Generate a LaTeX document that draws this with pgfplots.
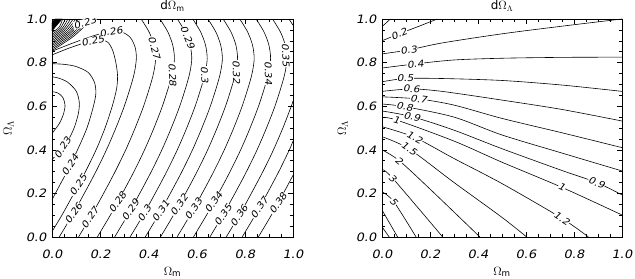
\documentclass[border=0pt]{standalone}
\usepackage{pgfplots}
\pgfplotsset{compat=1.18}
\usepackage{fontspec}
\setmainfont{DejaVu Sans}
\newfontfamily\tickfont[FakeStretch=1.12, FakeSlant=0.2]{DejaVu Sans}
\tikzset{lab/.style={font=\tickfont\fontsize{9.4}{10}\selectfont, fill=white, inner sep=0.4pt}}
\pgfplotsset{
  myax/.style={
    scale only axis, height=218bp,
    xmin=0,xmax=1,ymin=0,ymax=1,
    xtick={0,0.2,0.4,0.6,0.8,1}, ytick={0,0.2,0.4,0.6,0.8,1},
    xticklabels={0.0,0.2,0.4,0.6,0.8,1.0},
    yticklabels={0.0,0.2,0.4,0.6,0.8,1.0},
    minor tick num=3,
    tick align=inside,
    major tick length=5bp, minor tick length=3bp,
    every tick/.style={black, line width=0.5pt},
    axis line style={line width=0.6pt},
    xticklabel style={font=\tickfont\fontsize{11.6}{12}\selectfont, yshift=-9bp},
    yticklabel style={font=\tickfont\fontsize{11.6}{12}\selectfont, xshift=-2bp},
    title style={at={(axis description cs:0.5,1.033)}, anchor=center, inner sep=0pt, font=\fontsize{12}{13}\selectfont},
    xlabel style={at={(axis description cs:0.5,-0.16)}, anchor=center, font=\fontsize{12.5}{13}\selectfont},
    label style={font=\fontsize{12.5}{13}\selectfont},
  },
  cl/.style={black, line width=0.6pt, smooth, tension=0.5, no marks},
}
\begin{document}
\begin{tikzpicture}
\useasboundingbox (-52bp,-42bp) rectangle (583bp,237bp);
% ---------------- left: dOmega_m ----------------
\begin{axis}[myax, at={(0,0)}, anchor=south west, width=241bp,
  title={d$\Omega_{\mathrm m}$}, xlabel={$\Omega_{\mathrm m}$}, ylabel={$\Omega_\Lambda$},
  ylabel style={at={(axis description cs:-0.18,0.5)}, anchor=center}]
% corner blob
\addplot[fill=black, draw=black, line width=0.4pt] coordinates {(0,0.945) (0.042,1) (0.012,1) (0,0.982) (0,0.945)};
% dense cluster
\addplot[cl] coordinates {(0,0.855) (0.0905,0.9215) (0.165,1)};
\addplot[cl] coordinates {(0,0.8625) (0.085,0.925) (0.154,1)};
\addplot[cl] coordinates {(0,0.870) (0.0795,0.929) (0.143,1)};
\addplot[cl] coordinates {(0,0.8775) (0.074,0.933) (0.132,1)};
\addplot[cl] coordinates {(0,0.885) (0.0685,0.9365) (0.121,1)};
\addplot[cl] coordinates {(0,0.8925) (0.063,0.940) (0.110,1)};
\addplot[cl] coordinates {(0,0.900) (0.0575,0.944) (0.099,1)};
\addplot[cl] coordinates {(0,0.9075) (0.052,0.948) (0.088,1)};
\addplot[cl] coordinates {(0,0.915) (0.0465,0.9515) (0.077,1)};
\addplot[cl] coordinates {(0,0.9225) (0.041,0.955) (0.066,1)};
\addplot[cl] coordinates {(0,0.930) (0.0355,0.959) (0.055,1)};
\addplot[cl] coordinates {(0,0.9375) (0.030,0.963) (0.044,1)};
% inner loops
\addplot[cl] coordinates {(0,0.475) (0.03,0.52) (0.048,0.565) (0.054,0.605) (0.045,0.64) (0.025,0.66) (0,0.667)};
\addplot[cl] coordinates {(0,0.355) (0.044,0.41) (0.075,0.46) (0.095,0.51) (0.11,0.57) (0.113,0.62) (0.1,0.67) (0.065,0.71) (0.03,0.728) (0,0.735)};
\addplot[cl] coordinates {(0,0.17) (0.014,0.2) (0.062,0.3) (0.106,0.4) (0.145,0.5) (0.172,0.6) (0.182,0.66) (0.176,0.71) (0.15,0.755) (0.1,0.782) (0.05,0.792) (0,0.795)};
\addplot[cl] coordinates {(0,0.025) (0.041,0.1) (0.091,0.2) (0.139,0.3) (0.183,0.4) (0.22,0.5) (0.25,0.6) (0.268,0.68) (0.272,0.74) (0.265,0.8) (0.252,0.855) (0.232,0.893) (0.2,0.905) (0.169,0.9) (0.12,0.885) (0.06,0.862) (0,0.835)};
\addplot[cl] coordinates {(0.03,0) (0.084,0.1) (0.134,0.2) (0.182,0.3) (0.226,0.4) (0.265,0.5) (0.3,0.6) (0.329,0.7) (0.343,0.76) (0.35,0.82) (0.345,0.87) (0.325,0.915) (0.29,0.94) (0.245,0.942) (0.2,0.932) (0.15,0.915) (0.08,0.887) (0,0.852)};
% outer contours
\addplot[cl] coordinates {(0.110,0) (0.164,0.1) (0.214,0.2) (0.262,0.3) (0.306,0.4) (0.345,0.5) (0.380,0.6) (0.409,0.7) (0.423,0.76) (0.430,0.82) (0.423,0.88) (0.403,0.94) (0.370,1)};
\addplot[cl] coordinates {(0.188,0) (0.242,0.1) (0.292,0.2) (0.340,0.3) (0.384,0.4) (0.423,0.5) (0.458,0.6) (0.487,0.7) (0.501,0.76) (0.508,0.82) (0.501,0.88) (0.481,0.94) (0.448,1)};
\addplot[cl] coordinates {(0.260,0) (0.314,0.1) (0.364,0.2) (0.412,0.3) (0.456,0.4) (0.495,0.5) (0.530,0.6) (0.559,0.7) (0.573,0.76) (0.580,0.82) (0.573,0.88) (0.553,0.94) (0.520,1)};
\addplot[cl] coordinates {(0.324,0) (0.378,0.1) (0.428,0.2) (0.476,0.3) (0.520,0.4) (0.559,0.5) (0.594,0.6) (0.623,0.7) (0.637,0.76) (0.644,0.82) (0.637,0.88) (0.617,0.94) (0.584,1)};
\addplot[cl] coordinates {(0.387,0) (0.441,0.1) (0.491,0.2) (0.539,0.3) (0.583,0.4) (0.622,0.5) (0.657,0.6) (0.686,0.7) (0.700,0.76) (0.707,0.82) (0.700,0.88) (0.680,0.94) (0.647,1)};
\addplot[cl] coordinates {(0.450,0) (0.504,0.1) (0.554,0.2) (0.602,0.3) (0.646,0.4) (0.685,0.5) (0.720,0.6) (0.749,0.7) (0.763,0.76) (0.770,0.82) (0.763,0.88) (0.743,0.94) (0.710,1)};
\addplot[cl] coordinates {(0.519,0) (0.573,0.1) (0.623,0.2) (0.671,0.3) (0.715,0.4) (0.754,0.5) (0.789,0.6) (0.818,0.7) (0.832,0.76) (0.839,0.82) (0.832,0.88) (0.812,0.94) (0.779,1)};
\addplot[cl] coordinates {(0.587,0) (0.641,0.1) (0.691,0.2) (0.739,0.3) (0.783,0.4) (0.822,0.5) (0.857,0.6) (0.886,0.7) (0.900,0.76) (0.907,0.82) (0.900,0.88) (0.880,0.94) (0.847,1)};
\addplot[cl] coordinates {(0.655,0) (0.709,0.1) (0.759,0.2) (0.807,0.3) (0.851,0.4) (0.890,0.5) (0.925,0.6) (0.954,0.7) (0.968,0.76) (0.975,0.82) (0.968,0.88) (0.948,0.94) (0.915,1)};
\addplot[cl] coordinates {(0.723,0) (0.777,0.1) (0.827,0.2) (0.875,0.3) (0.919,0.4) (0.958,0.5) (0.993,0.6) (1.0,0.624)};
\addplot[cl] coordinates {(1.0,0.972) (0.983,1.0)};
\addplot[cl] coordinates {(0.789,0) (0.843,0.1) (0.893,0.2) (0.941,0.3) (0.985,0.4) (1.0,0.44)};
\addplot[cl] coordinates {(0.856,0) (0.910,0.1) (0.960,0.2) (1.0,0.283)};
% labels
\node[lab, rotate=58] at (axis cs:0.044,0.41) {0.23};
\node[lab, rotate=57] at (axis cs:0.075,0.33) {0.24};
\node[lab, rotate=55] at (axis cs:0.109,0.238) {0.25};
\node[lab, rotate=55] at (axis cs:0.089,0.109) {0.26};
\node[lab, rotate=55] at (axis cs:0.158,0.089) {0.27};
\node[lab, rotate=55] at (axis cs:0.2715,0.159) {0.28};
\node[lab, rotate=55] at (axis cs:0.326,0.124) {0.29};
\node[lab, rotate=55] at (axis cs:0.383,0.109) {0.3};
\node[lab, rotate=55] at (axis cs:0.451,0.119) {0.31};
\node[lab, rotate=55] at (axis cs:0.5275,0.147) {0.32};
\node[lab, rotate=55] at (axis cs:0.587,0.128) {0.33};
\node[lab, rotate=55] at (axis cs:0.6705,0.159) {0.34};
\node[lab, rotate=55] at (axis cs:0.71,0.101) {0.35};
\node[lab, rotate=55] at (axis cs:0.776,0.098) {0.36};
\node[lab, rotate=55] at (axis cs:0.8605,0.135) {0.37};
\node[lab, rotate=55] at (axis cs:0.9375,0.155) {0.38};
\node[lab, rotate=-88] at (axis cs:0.50,0.745) {0.28};
\node[lab, rotate=-88] at (axis cs:0.6335,0.745) {0.3};
\node[lab, rotate=-88] at (axis cs:0.765,0.757) {0.32};
\node[lab, rotate=-88] at (axis cs:0.898,0.752) {0.34};
\node[lab, rotate=-88] at (axis cs:0.97,0.835) {0.35};
\node[lab, rotate=-75] at (axis cs:0.425,0.867) {0.27};
\node[lab, rotate=-68] at (axis cs:0.563,0.915) {0.29};
\node[lab, rotate=10] at (axis cs:0.245,0.942) {0.26};
\node[lab, rotate=12] at (axis cs:0.169,0.9) {0.25};
\node[lab, rotate=15] at (axis cs:0.137,0.982) {0.23};
\end{axis}
% ---------------- right: dOmega_Lambda ----------------
\begin{axis}[myax, at={(330bp,0)}, anchor=south west, width=240bp,
  title={d$\Omega_\Lambda$}, xlabel={$\Omega_{\mathrm m}$}, ylabel={$\Omega_\Lambda$},
  ylabel style={at={(axis description cs:-0.163,0.5)}, anchor=center}]
\addplot[cl] coordinates {(0,0.965) (0.035,1.0)};
\addplot[cl] coordinates {(0,0.90) (0.071,0.932) (0.15,0.965) (0.23,1.0)};
\addplot[cl] coordinates {(0,0.84) (0.111,0.858) (0.25,0.89) (0.5,0.932) (0.75,0.967) (1.0,1.0)};
\addplot[cl] coordinates {(0,0.775) (0.139,0.794) (0.3,0.812) (0.5,0.82) (0.75,0.824) (1,0.825)};
\addplot[cl] coordinates {(0,0.712) (0.097,0.727) (0.25,0.727) (0.5,0.718) (0.75,0.697) (1,0.668)};
\addplot[cl] coordinates {(0,0.668) (0.122,0.679) (0.25,0.668) (0.5,0.628) (0.75,0.585) (1,0.532)};
\addplot[cl] coordinates {(0,0.643) (0.153,0.633) (0.3,0.605) (0.5,0.544) (0.75,0.478) (1,0.41)};
\addplot[cl] coordinates {(0,0.61) (0.094,0.598) (0.3,0.55) (0.5,0.468) (0.75,0.385) (1,0.303)};
\addplot[cl] coordinates {(0,0.578) (0.125,0.552) (0.3,0.49) (0.5,0.405) (0.75,0.305) (0.894,0.25) (1,0.193)};
\addplot[cl] coordinates {(0,0.548) (0.06,0.537) (0.3,0.44) (0.5,0.343) (0.749,0.228) (1,0.101)};
\addplot[cl] coordinates {(0,0.506) (0.136,0.457) (0.3,0.36) (0.5,0.245) (0.749,0.086) (0.86,0)};
\addplot[cl] coordinates {(0,0.46) (0.113,0.404) (0.3,0.25) (0.5,0.09) (0.603,0)};
\addplot[cl] coordinates {(0,0.40) (0.072,0.35) (0.2,0.22) (0.408,0)};
\addplot[cl] coordinates {(0,0.31) (0.044,0.27) (0.253,0)};
\addplot[cl] coordinates {(0,0.208) (0.049,0.162) (0.142,0)};
\addplot[cl] coordinates {(0,0.124) (0.065,0)};
\addplot[cl] coordinates {(0,0.047) (0.03,0)};
\node[lab, rotate=22] at (axis cs:0.071,0.932) {0.2};
\node[lab, rotate=8] at (axis cs:0.111,0.858) {0.3};
\node[lab, rotate=5] at (axis cs:0.139,0.794) {0.4};
\node[lab, rotate=0] at (axis cs:0.097,0.727) {0.5};
\node[lab, rotate=-3] at (axis cs:0.122,0.679) {0.6};
\node[lab, rotate=-8] at (axis cs:0.153,0.633) {0.7};
\node[lab, rotate=-10] at (axis cs:0.094,0.598) {0.8};
\node[lab, rotate=-12] at (axis cs:0.125,0.552) {0.9};
\node[lab, rotate=-15] at (axis cs:0.06,0.537) {1};
\node[lab, rotate=-28] at (axis cs:0.136,0.457) {1.2};
\node[lab, rotate=-35] at (axis cs:0.113,0.404) {1.5};
\node[lab, rotate=-40] at (axis cs:0.072,0.35) {2};
\node[lab, rotate=-45] at (axis cs:0.044,0.27) {3};
\node[lab, rotate=-50] at (axis cs:0.049,0.162) {5};
\node[lab, rotate=-22] at (axis cs:0.894,0.25) {0.9};
\node[lab, rotate=-25] at (axis cs:0.749,0.228) {1};
\node[lab, rotate=-33] at (axis cs:0.749,0.086) {1.2};
\end{axis}
\end{tikzpicture}
\end{document}
